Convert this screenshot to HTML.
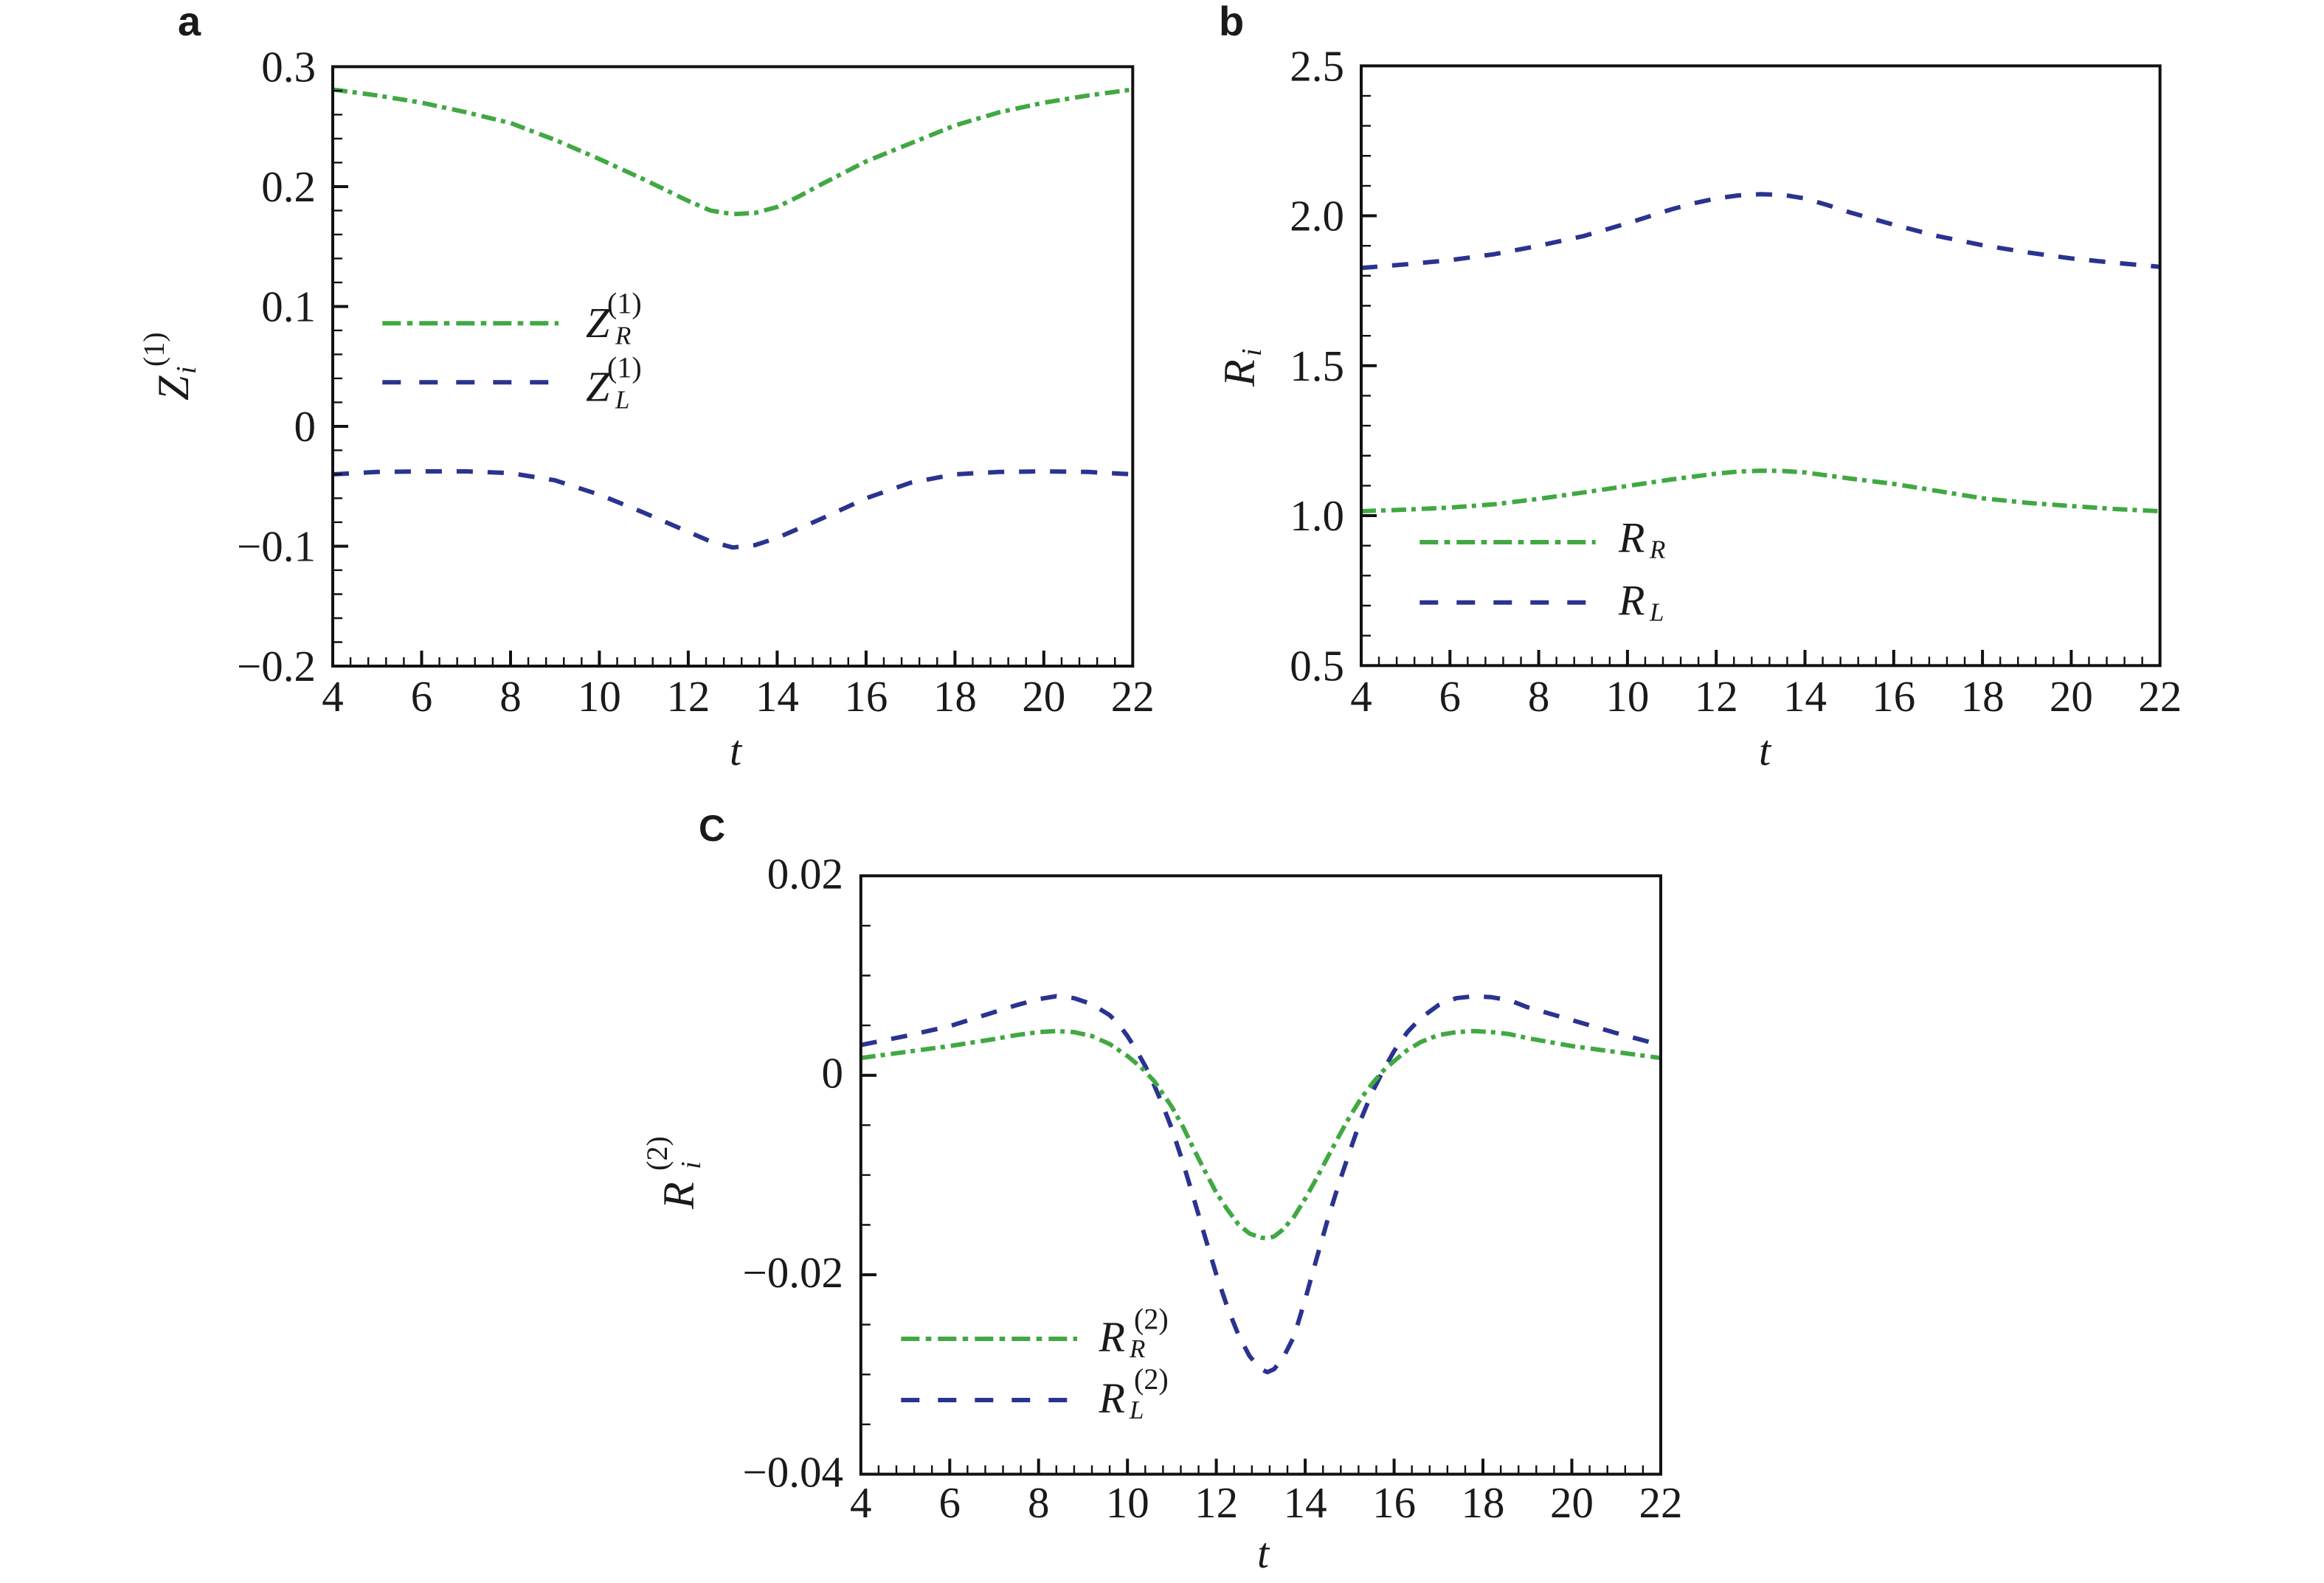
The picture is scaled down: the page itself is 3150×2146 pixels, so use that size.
<!DOCTYPE html>
<html><head><meta charset="utf-8"><style>
html,body{margin:0;padding:0;background:#fff}
svg{display:block}
.num{font-family:"Liberation Serif",serif;font-size:59px;fill:#1a1a1a}
.it{font-family:"Liberation Serif",serif;font-style:italic;fill:#1a1a1a}
.rm{font-family:"Liberation Serif",serif;fill:#1a1a1a}
.lab{font-family:"Liberation Sans",sans-serif;font-weight:bold;fill:#1a1a1a}
</style></head><body>
<svg width="3150" height="2146" viewBox="0 0 3150 2146" xmlns="http://www.w3.org/2000/svg">
<rect width="3150" height="2146" fill="#fff"/>

<!-- panel labels -->
<text class="lab" x="241" y="48" font-size="56">a</text>
<text class="lab" x="1652" y="48" font-size="56">b</text>
<text class="lab" x="947" y="1140" font-size="50">C</text>

<!-- ================= PANEL A ================= -->
<g fill="none" stroke-linejoin="round" stroke-width="6">
<polyline stroke="#41a843" stroke-dasharray="20 7 6 8" points="451,121.3 511.2,129.4 571.5,139.2 631.7,152.2 692,166.8 752.2,189.6 812.4,215.6 872.7,243.2 902.8,257.8 932.9,272.4 963,285.4 993.2,290.3 1023.3,288.7 1053.4,280.6 1083.5,265.9 1113.6,249.7 1173.9,218.8 1234.1,194.4 1294.4,170 1354.6,152.2 1414.8,139.2 1475.1,129.4 1535.3,121.3"/>
<polyline stroke="#2a3390" stroke-dasharray="22 20" points="451,643 511.2,639.8 571.5,639 631.7,639 692,641.4 752.2,651.1 812.4,670.6 872.7,695 902.8,708 932.9,721 963,734 993.2,742.2 1023.3,739 1053.4,729.2 1083.5,716.2 1113.6,703.1 1173.9,675.5 1234.1,654.4 1294.4,643 1354.6,639.8 1414.8,639 1475.1,639.8 1535.3,643"/>
</g>
<g stroke="#111" fill="none">
<line x1="449.8" y1="897" x2="1536.5" y2="897" stroke-width="12" stroke-dasharray="2.4 21.696"/>
<line x1="457.5" y1="89.2" x2="457.5" y2="904.2" stroke-width="13" stroke-dasharray="2.4 30.104"/>
<path stroke-width="4" d="M451 253H472M451 415.5H472M451 578H472M451 740.5H472M571.5 903V882M692 903V882M812.4 903V882M932.9 903V882M1053.4 903V882M1173.9 903V882M1294.4 903V882M1414.8 903V882"/>
<rect x="451" y="90.4" width="1084.3" height="812.6" stroke-width="4"/>
</g>
<g class="num" text-anchor="end">
<text x="428" y="110.4">0.3</text>
<text x="428" y="273">0.2</text>
<text x="428" y="435.5">0.1</text>
<text x="428" y="598">0</text>
<text x="428" y="760.5">−0.1</text>
<text x="428" y="923">−0.2</text>
</g>
<g class="num" text-anchor="middle">
<text x="451" y="964">4</text><text x="571.5" y="964">6</text><text x="692" y="964">8</text><text x="812.4" y="964">10</text><text x="932.9" y="964">12</text><text x="1053.4" y="964">14</text><text x="1173.9" y="964">16</text><text x="1294.4" y="964">18</text><text x="1414.8" y="964">20</text><text x="1535.3" y="964">22</text>
</g>
<text class="it" x="997" y="1037" font-size="58" text-anchor="middle">t</text>
<g transform="translate(255,495) rotate(-90)">
<text class="it" x="-48" y="0" font-size="60">Z</text>
<text class="it" x="-12" y="10" font-size="38">i</text>
<text class="rm" x="-2" y="-33" font-size="40">(1)</text>
</g>
<!-- legend a -->
<line x1="518.3" y1="438.3" x2="757" y2="438.3" stroke="#41a843" stroke-width="6" stroke-dasharray="25 8.4 7.6 9"/>
<line x1="518.3" y1="518.3" x2="743.3" y2="518.3" stroke="#2a3390" stroke-width="6" stroke-dasharray="25 25"/>
<text class="it" x="794" y="457" font-size="58">Z</text>
<text class="rm" x="823" y="424.6" font-size="40">(1)</text>
<text class="it" x="834" y="466.7" font-size="35">R</text>
<text class="it" x="794" y="543.3" font-size="58">Z</text>
<text class="rm" x="823" y="511.3" font-size="40">(1)</text>
<text class="it" x="834" y="553.3" font-size="35">L</text>

<!-- ================= PANEL B ================= -->
<g fill="none" stroke-linejoin="round" stroke-width="6">
<polyline stroke="#2a3390" stroke-dasharray="22 20" points="1845,363.3 1905.2,358.4 1965.3,352.7 2025.5,344.6 2085.6,333.2 2145.8,320.2 2205.9,302.7 2266.1,283.6 2296.1,275.5 2326.2,269 2356.3,264.9 2386.4,263.3 2416.4,264.1 2446.5,269 2476.6,277.9 2506.7,287.7 2566.8,304.7 2627,320.2 2687.1,332.4 2747.3,342.1 2807.4,350.3 2867.6,356.4 2927.7,361.7"/>
<polyline stroke="#41a843" stroke-dasharray="20 7 6 8" points="1845,693 1905.2,690.9 1965.3,688.1 2025.5,683.6 2085.6,676.3 2145.8,667.7 2205.9,658.8 2266.1,649.9 2326.2,642.1 2356.3,639.3 2386.4,638.1 2416.4,638.5 2446.5,640.5 2506.7,648.6 2566.8,656 2627,665.7 2687.1,675.5 2747.3,681.6 2807.4,686 2867.6,690.1 2927.7,693"/>
</g>
<g stroke="#111" fill="none">
<line x1="1843.8" y1="896.3" x2="2929" y2="896.3" stroke-width="12" stroke-dasharray="2.4 21.66"/>
<line x1="1851.5" y1="88.1" x2="1851.5" y2="903.5" stroke-width="13" stroke-dasharray="2.4 38.25"/>
<path stroke-width="4" d="M1845 292.55H1866M1845 495.8H1866M1845 699.05H1866M1965.3 902.3V881M2085.6 902.3V881M2205.9 902.3V881M2326.2 902.3V881M2446.5 902.3V881M2566.8 902.3V881M2687.1 902.3V881M2807.4 902.3V881"/>
<rect x="1845" y="89.3" width="1082.7" height="813" stroke-width="4"/>
</g>
<g class="num" text-anchor="end">
<text x="1822" y="109.3">2.5</text>
<text x="1822" y="312.5">2.0</text>
<text x="1822" y="515.8">1.5</text>
<text x="1822" y="719">1.0</text>
<text x="1822" y="922.3">0.5</text>
</g>
<g class="num" text-anchor="middle">
<text x="1845" y="964">4</text><text x="1965.3" y="964">6</text><text x="2085.6" y="964">8</text><text x="2205.9" y="964">10</text><text x="2326.2" y="964">12</text><text x="2446.5" y="964">14</text><text x="2566.8" y="964">16</text><text x="2687.1" y="964">18</text><text x="2807.4" y="964">20</text><text x="2927.7" y="964">22</text>
</g>
<text class="it" x="2392" y="1037" font-size="58" text-anchor="middle">t</text>
<g transform="translate(1700,496) rotate(-90)">
<text class="it" x="-28" y="0" font-size="60">R</text>
<text class="it" x="13" y="9" font-size="38">i</text>
</g>
<!-- legend b -->
<line x1="1924.3" y1="735" x2="2162.7" y2="735" stroke="#41a843" stroke-width="6" stroke-dasharray="25 8.4 7.6 9"/>
<line x1="1924.3" y1="816.7" x2="2149.3" y2="816.7" stroke="#2a3390" stroke-width="6" stroke-dasharray="25 25"/>
<text class="it" x="2194" y="748.3" font-size="58">R</text>
<text class="it" x="2236" y="756.5" font-size="35">R</text>
<text class="it" x="2194" y="833.3" font-size="58">R</text>
<text class="it" x="2236" y="841.5" font-size="35">L</text>

<!-- ================= PANEL C ================= -->
<g fill="none" stroke-linejoin="round" stroke-width="6">
<polyline stroke="#2a3390" stroke-dasharray="22 20" points="1166.8,1416.7 1227,1404.6 1287.3,1391.1 1347.5,1372.1 1377.6,1362.7 1407.7,1354.5 1431.8,1350.5 1455.9,1353.2 1480,1361.3 1504.1,1376.2 1516.1,1388.3 1528.2,1404.6 1540.2,1423.5 1552.3,1445.1 1564.3,1470.8 1576.4,1499.2 1588.4,1530.3 1603.5,1576.3 1618.5,1626.3 1633.6,1677.7 1648.6,1727.7 1663.7,1772.3 1678.8,1810.2 1693.8,1838.6 1708.9,1856.1 1717.9,1860.2 1726.9,1856.1 1738.9,1841.3 1754,1811.5 1769.1,1761.5 1784.2,1707.4 1799.2,1654.7 1814.3,1606 1829.3,1561.4 1844.4,1518.1 1859.5,1481.6 1874.5,1451.9 1889.6,1424.9 1907.6,1399.2 1925.6,1380.2 1949.6,1362.7 1973.8,1353.2 1997.9,1350.5 2021.9,1351.9 2046,1355.9 2070.3,1365.4 2130.5,1382.9 2190.7,1400.5 2251,1416.7"/>
<polyline stroke="#41a843" stroke-dasharray="20 7 6 8" points="1166.8,1434.3 1227,1426.2 1287.3,1418.1 1347.5,1408.6 1377.6,1403.2 1407.7,1399.2 1431.8,1397.8 1455.9,1399.2 1480,1404.6 1504.1,1415.4 1528.2,1431.6 1546.2,1446.5 1564.3,1465.4 1588.4,1500.6 1603.5,1527.6 1618.5,1558.7 1633.6,1588.4 1648.6,1616.8 1663.7,1639.8 1678.8,1660.1 1693.8,1672.3 1708.9,1677.7 1717.9,1679 1726.9,1676.3 1738.9,1666.9 1754,1649.3 1769.1,1625 1784.2,1597.9 1799.2,1569.5 1814.3,1541.1 1829.3,1514.1 1844.4,1489.7 1859.5,1469.5 1874.5,1451.9 1889.6,1438.4 1907.6,1423.5 1925.6,1412.7 1949.6,1403.2 1973.8,1399.2 1997.9,1397.8 2021.9,1399.2 2046,1401.9 2070.3,1407.3 2130.5,1418.1 2190.7,1426.2 2251,1434.3"/>
</g>
<g stroke="#111" fill="none">
<line x1="1165.6" y1="1992.5" x2="2252.2" y2="1992.5" stroke-width="12" stroke-dasharray="2.4 21.693"/>
<line x1="1173.3" y1="1186.1" x2="1173.3" y2="1999.7" stroke-width="13" stroke-dasharray="2.4 65.2"/>
<path stroke-width="4" d="M1166.8 1457.7H1188M1166.8 1728.1H1188M1287.3 1998.5V1977.5M1407.7 1998.5V1977.5M1528.2 1998.5V1977.5M1648.6 1998.5V1977.5M1769.1 1998.5V1977.5M1889.6 1998.5V1977.5M2010 1998.5V1977.5M2130.5 1998.5V1977.5"/>
<rect x="1166.8" y="1187.3" width="1084.2" height="811.2" stroke-width="4"/>
</g>
<g class="num" text-anchor="end">
<text x="1143" y="1204.3">0.02</text>
<text x="1143" y="1474.7">0</text>
<text x="1143" y="1745">−0.02</text>
<text x="1143" y="2015.5">−0.04</text>
</g>
<g class="num" text-anchor="middle">
<text x="1166.8" y="2057">4</text><text x="1287.3" y="2057">6</text><text x="1407.7" y="2057">8</text><text x="1528.2" y="2057">10</text><text x="1648.6" y="2057">12</text><text x="1769.1" y="2057">14</text><text x="1889.6" y="2057">16</text><text x="2010" y="2057">18</text><text x="2130.5" y="2057">20</text><text x="2251" y="2057">22</text>
</g>
<text class="it" x="1712" y="2125" font-size="58" text-anchor="middle">t</text>
<g transform="translate(940,1593) rotate(-90)">
<text class="it" x="-46" y="0" font-size="60">R</text>
<text class="it" x="8" y="9" font-size="38">i</text>
<text class="rm" x="6" y="-36" font-size="40">(2)</text>
</g>
<!-- legend c -->
<line x1="1221.3" y1="1815" x2="1460" y2="1815" stroke="#41a843" stroke-width="6" stroke-dasharray="25 8.4 7.6 9"/>
<line x1="1221.3" y1="1898" x2="1446.3" y2="1898" stroke="#2a3390" stroke-width="6" stroke-dasharray="25 25"/>
<text class="it" x="1489.5" y="1832" font-size="58">R</text>
<text class="rm" x="1537" y="1801.6" font-size="40">(2)</text>
<text class="it" x="1531" y="1840" font-size="35">R</text>
<text class="it" x="1489.5" y="1914.8" font-size="58">R</text>
<text class="rm" x="1537" y="1883" font-size="40">(2)</text>
<text class="it" x="1531" y="1923" font-size="35">L</text>
</svg>
</body></html>
